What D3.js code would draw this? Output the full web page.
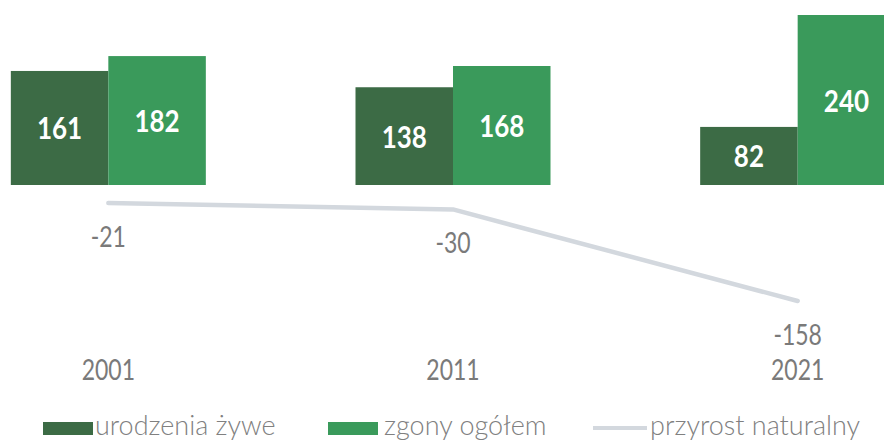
<!DOCTYPE html>
<html><head><meta charset="utf-8">
<script src="https://cdn.jsdelivr.net/npm/d3@7"></script>
<style>html,body{margin:0;padding:0;background:#fff;overflow:hidden}</style>
</head><body>
<svg id="c" width="884" height="441"></svg>
<script>
const years = ["2001", "2011", "2021"];
const births = [161, 138, 82];
const deaths = [182, 168, 240];
const growth = [-21, -30, -158];
const seriesNames = ["urodzenia żywe", "zgony ogółem", "przyrost naturalny"];

const colDark = "#3c6b45", colLight = "#3a9a5b", colLine = "#d3d8de", txt = "#7a7a7a";
const FONT = "Lato, 'Open Sans', sans-serif";
const SY = 1.25;

const svg = d3.select("#c");
const x0 = d3.scaleBand().domain(years).range([-64, 970]);
const x1 = d3.scaleBand().domain(["b", "d"]).range([0, 195]);
const y = d3.scaleLinear().domain([0, 240]).range([185, 15]);
const y2 = d3.scaleLinear().domain([-158, -21]).range([301, 203]);
const cx = yr => x0(yr) + x0.bandwidth() / 2;

const data = years.map((yr, i) => ({yr, b: births[i], d: deaths[i], g: growth[i]}));

// bars
const groups = svg.append("g").selectAll("g").data(data).join("g")
  .attr("transform", d => `translate(${cx(d.yr) - 97.5},0)`);
[["b", colDark], ["d", colLight]].forEach(([k, c]) => {
  groups.append("rect")
    .attr("x", x1(k)).attr("width", x1.bandwidth())
    .attr("y", d => y(d[k])).attr("height", d => y(0) - y(d[k]))
    .attr("fill", c);
  groups.append("text")
    .attr("transform", d => `translate(${x1(k) + x1.bandwidth() / 2},${(y(d[k]) + y(0)) / 2 + 11.5}) scale(1,1.2)`)
    .attr("text-anchor", "middle").attr("fill", "#fff")
    .style("font-family", FONT).style("font-weight", 700).style("font-size", "26px")
    .text(d => d[k]);
});

// line
const line = d3.line().x(d => cx(d.yr)).y(d => y2(d.g));
svg.append("path").datum(data).attr("d", line)
  .attr("fill", "none").attr("stroke", colLine).attr("stroke-width", 4.5)
  .attr("stroke-linecap", "round").attr("stroke-linejoin", "round");

svg.append("g").selectAll("text").data(data).join("text")
  .attr("transform", d => `translate(${cx(d.yr)},${y2(d.g) + 44}) scale(1,${SY})`)
  .attr("text-anchor", "middle").attr("fill", txt)
  .style("font-family", FONT).style("font-size", "23px")
  .text(d => d.g);

// category labels
svg.append("g").selectAll("text").data(years).join("text")
  .attr("transform", d => `translate(${cx(d)},380) scale(1,${SY})`)
  .attr("text-anchor", "middle").attr("fill", txt)
  .style("font-family", FONT).style("font-size", "23px")
  .text(d => d);

// legend
const lg = svg.append("g");
const items = [
  {name: seriesNames[0], type: "rect", color: colDark, x: 43, tx: 95},
  {name: seriesNames[1], type: "rect", color: colLight, x: 328, tx: 384},
  {name: seriesNames[2], type: "line", color: colLine, x: 593, tx: 650}
];
items.forEach(it => {
  if (it.type === "rect") {
    lg.append("rect").attr("x", it.x).attr("y", 422).attr("width", 50).attr("height", 13).attr("fill", it.color);
  } else {
    lg.append("line").attr("x1", it.x).attr("x2", it.x + 54).attr("y1", 428).attr("y2", 428)
      .attr("stroke", it.color).attr("stroke-width", 4);
  }
  lg.append("text").attr("transform", `translate(${it.tx},435) scale(1,1.05)`)
    .attr("fill", "#808080").style("font-family", FONT).style("font-weight", 300).style("font-size", "27px")
    .text(it.name);
});
</script>
</body></html>
